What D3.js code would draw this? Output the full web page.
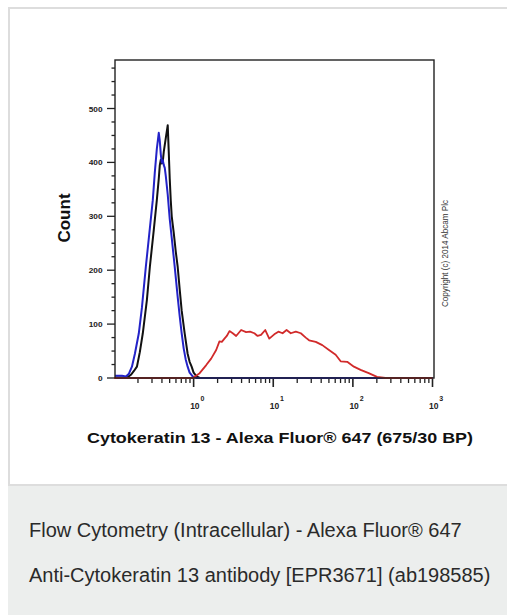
<!DOCTYPE html>
<html>
<head>
<meta charset="utf-8">
<script src="https://cdn.jsdelivr.net/npm/d3@7"></script>
<style>
html,body{margin:0;padding:0;background:#fff;}
svg{display:block;}
</style>
</head>
<body>
<svg id="chart" width="507" height="615"></svg>
<script>
// ---- data (fluorescence intensity, count) ----
const blueX = [0.103,0.126,0.141,0.154,0.168,0.183,0.205,0.224,0.251,0.274,0.307,0.325,0.345,0.365,0.376,0.387,0.398,0.410,0.422,0.434,0.447,0.473,0.501,0.531,0.579,0.631,0.668,0.708,0.750,0.794,0.841,0.891,0.972,1.09,1000];
const blueY = [4,4,3,8,21,45,83,130,206,260,330,380,425,455,440,415,400,404,395,390,375,340,295,260,206,150,115,83,55,35,21,10,3,0,0];

const blackX = [0.103,0.137,0.150,0.163,0.178,0.194,0.211,0.230,0.259,0.282,0.316,0.345,0.365,0.376,0.387,0.398,0.410,0.422,0.447,0.473,0.487,0.501,0.516,0.531,0.546,0.562,0.596,0.631,0.668,0.708,0.772,0.841,0.891,0.944,1.0,1.09,1.19,1000];
const blackY = [1,1,2,6,13,21,48,83,145,206,275,330,370,395,405,398,402,420,445,469,420,370,330,300,285,270,235,206,165,125,83,45,30,21,10,3,0,0];

const redX = [0.1,0.98,1.19,1.44,1.66,1.92,2.11,2.26,2.44,2.61,2.82,3.10,3.42,3.95,4.56,5.11,5.79,6.36,7.02,7.94,8.91,10.3,11.6,13.1,14.7,16.6,19.2,22.2,25.6,28.2,34.2,41.3,50.1,60.8,70.2,84.9,103,125,158,201,256,1000];
const redY = [0,0,9,24,36,52,68,67,73,78,87,83,78,89,85,86,83,78,80,89,73,81,86,83,89,83,86,83,75,70,67,61,52,43,31,30,21,15,9,2,0,0];

const yTickValues = [0,100,200,300,400,500];
const xMajorTicks = [1,10,100,1000];
const xTickExponents = ["0","1","2","3"];
const xTitle = "Cytokeratin 13 - Alexa Fluor® 647 (675/30 BP)";
const yTitle = "Count";
const copyright = "Copyright (c) 2014 Abcam Plc";
const captionLines = ["Flow Cytometry (Intracellular) - Alexa Fluor® 647","Anti-Cytokeratin 13 antibody [EPR3671] (ab198585)"];

// ---- layout ----
const svg = d3.select("#chart");
const font = "'Liberation Sans', Arial, Helvetica, sans-serif";

// card
svg.append("rect").attr("x",8).attr("y",485).attr("width",520).attr("height",140).attr("fill","#eceeed");
svg.append("rect").attr("x",9).attr("y",8).attr("width",520).attr("height",477)
  .attr("fill","none").attr("stroke","#dddddd").attr("stroke-width",2);

const L = 115, R = 434, T = 60, B = 378;
const x = d3.scaleLog().domain([0.1,1000]).range([114,432.5]);
const y = d3.scaleLinear().domain([0,590]).range([B,T]);

// y axis ticks
const yMinor = d3.range(0,580,25);
svg.append("g").selectAll("line").data(yMinor).join("line")
  .attr("x1", d => d%100===0 ? L-8 : L-3.5).attr("x2",L)
  .attr("y1", d=>y(d)).attr("y2", d=>y(d))
  .attr("stroke","#222").attr("stroke-width",1.3);
svg.append("g").selectAll("text").data(yTickValues).join("text")
  .attr("x",L-12.5).attr("y",d=>y(d)+3)
  .attr("text-anchor","end").attr("font-family",font).attr("font-weight","bold")
  .attr("font-size",8).attr("fill","#222")
  .attr("textLength",d=>String(d).length*4.6).attr("lengthAdjust","spacingAndGlyphs")
  .text(d=>d);

// x axis ticks
const xMinor = [];
[0.1,1,10,100].forEach(b => { for (let k=2;k<=9;k++) xMinor.push(b*k); });
svg.append("g").selectAll("line").data(xMinor).join("line")
  .attr("x1",d=>x(d)).attr("x2",d=>x(d)).attr("y1",B).attr("y2",B+5)
  .attr("stroke","#222").attr("stroke-width",1.3);
svg.append("g").selectAll("line").data(xMajorTicks).join("line")
  .attr("x1",d=>x(d)).attr("x2",d=>x(d)).attr("y1",B).attr("y2",B+9)
  .attr("stroke","#222").attr("stroke-width",1.6);
const xl = svg.append("g").selectAll("text").data(xMajorTicks).join("text")
  .attr("x",d=>x(d)-3.5).attr("y",408.5)
  .attr("font-family",font).attr("font-weight","bold").attr("font-size",8.5).attr("fill","#222");
xl.append("tspan").text("10");
xl.append("tspan").attr("dx",0.8).attr("dy",-8).attr("font-size",7).text((d,i)=>xTickExponents[i]);

// curves
const line = d3.line().x(d=>x(d[0])).y(d=>y(d[1]));
const red = redX.map((v,i)=>[v,redY[i]]);
const blue = blueX.map((v,i)=>[v,blueY[i]]);
const black = blackX.map((v,i)=>[v,blackY[i]]);
svg.append("path").datum(black).attr("d",line).attr("fill","none").attr("stroke","#111").attr("stroke-width",2).attr("stroke-linejoin","round");
svg.append("path").datum(blue).attr("d",line).attr("fill","none").attr("stroke","#2323c8").attr("stroke-width",2).attr("stroke-linejoin","round");
svg.append("path").datum(red).attr("d",line).attr("fill","none").attr("stroke","#d12a2a").attr("stroke-width",1.8).attr("stroke-linejoin","round");

// frame
svg.append("rect").attr("x",L).attr("y",T).attr("width",R-L).attr("height",B-T)
  .attr("fill","none").attr("stroke","#222").attr("stroke-width",1.4);

// titles
svg.append("text").attr("x",87).attr("y",443)
  .attr("font-family",font).attr("font-weight","bold").attr("font-size",14.5).attr("fill","#111")
  .attr("textLength",386).attr("lengthAdjust","spacingAndGlyphs").text(xTitle);
svg.append("text").attr("transform","translate(70,218) rotate(-90)").attr("text-anchor","middle")
  .attr("font-family",font).attr("font-weight","bold").attr("font-size",17).attr("fill","#111").text(yTitle);
svg.append("text").attr("transform","translate(448,307) rotate(-90)")
  .attr("font-family",font).attr("font-size",9.5).attr("fill","#333")
  .attr("textLength",107).attr("lengthAdjust","spacingAndGlyphs").text(copyright);

// caption
svg.append("g").selectAll("text").data(captionLines).join("text")
  .attr("x",29).attr("y",(d,i)=>537+i*45)
  .attr("font-family",font).attr("font-size",20).attr("fill","#2a2a2a").text(d=>d);
</script>
</body>
</html>
